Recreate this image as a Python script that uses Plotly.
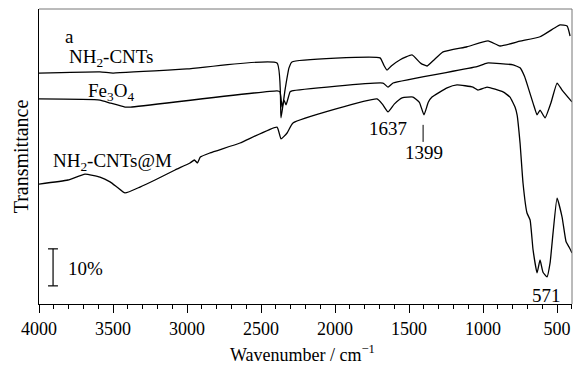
import plotly.graph_objects as go

# Wavenumbers (cm^-1) and transmittance (%, offset)
cnt_wn = [4000, 3588, 3500, 3000, 2392, 2365, 2338, 2311, 2291, 1696, 1670, 1649, 1620,
          1560, 1480, 1420, 1378, 1330, 1270, 1108, 966, 885, 750, 615, 520, 480, 432, 412]
cnt_t = [62.4, 62.7, 62.4, 63.5, 65.1, 50.3, 57.8, 63.8, 65.4, 66.5, 64.5, 63.2, 64.3,
         66.0, 67.3, 65.0, 64.3, 66.0, 68.1, 69.5, 71.1, 69.7, 71.0, 72.2, 74.5, 75.4, 75.1, 72.4]

fe_wn = [4000, 3588, 3520, 3419, 3380, 2392, 2372, 2358, 2345, 2331, 2304, 2291,
         1676, 1642, 1608, 1041, 973, 797, 750, 720, 696, 660, 635, 615, 581, 540, 500, 466, 399]
fe_t = [55.4, 55.1, 54.3, 53.2, 53.2, 57.6, 57.3, 53.2, 55.1, 53.8, 57.3, 57.6,
        59.7, 58.6, 59.7, 64.1, 65.1, 64.6, 63.8, 61.5, 58.6, 54.0, 51.1, 52.4, 50.3, 54.5, 59.7, 57.8, 54.6]

m_wn = [4000, 3804, 3689, 3588, 3520, 3470, 3419, 3318, 3216, 3081, 2980, 2950, 2930, 2910,
        2845, 2642, 2392, 2365, 2324, 2284, 1716, 1680, 1642, 1600, 1547, 1473, 1430, 1399,
        1370, 1345, 1243, 1176, 1068, 1034, 973, 865, 818, 784, 770, 750, 730, 703, 682,
        662, 635, 615, 595, 568, 547, 527, 500, 466, 439, 419, 399]
m_t = [32.4, 33.5, 35.1, 34.3, 33.0, 31.5, 30.0, 31.6, 33.5, 36.2, 38.1, 38.9, 38.1, 39.7,
       40.8, 43.5, 47.8, 44.6, 46.2, 48.9, 55.4, 54.0, 51.9, 54.0, 55.7, 55.9, 54.5, 51.1,
       54.5, 55.9, 58.4, 59.2, 58.6, 57.8, 58.6, 57.3, 55.9, 53.2, 51.1, 43.5, 32.7, 24.6, 22.7,
       14.6, 8.4, 11.9, 8.6, 7.3, 11.1, 19.2, 28.6, 23.5, 16.8, 15.4, 13.8]

x_ticks = [4000, 3500, 3000, 2500, 2000, 1500, 1000, 500]

FONT = "Liberation Serif, Times New Roman, serif"
fig = go.Figure()
for wn, t in [(cnt_wn, cnt_t), (fe_wn, fe_t), (m_wn, m_t)]:
    fig.add_trace(go.Scatter(x=wn, y=t, mode="lines",
                             line=dict(color="black", width=1.3, shape="spline", smoothing=0.4),
                             showlegend=False))

ann = [
    ("a", 3797, 72.2),
    ("NH<sub>2</sub>-CNTs", 3510, 66.5),
    ("Fe<sub>3</sub>O<sub>4</sub>", 3514, 57.3),
    ("NH<sub>2</sub>-CNTs@M", 3503, 38.4),
    ("1637", 1642, 47.3),
    ("1399", 1399, 40.8),
    ("571", 571, 2.4),
    ("10%", 3689, 9.7),
]
for txt, x, y in ann:
    fig.add_annotation(x=x, y=y, text=txt, showarrow=False,
                       font=dict(family=FONT, size=19, color="black"),
                       xanchor="center", yanchor="middle")

# axis title as annotation for exact placement
fig.add_annotation(xref="paper", yref="paper", x=0.495, y=-0.167,
                   text="Wavenumber / cm<sup>−1</sup>", showarrow=False,
                   font=dict(family=FONT, size=18, color="black"),
                   xanchor="center", yanchor="middle")

# 1399 marker line
fig.add_shape(type="line", x0=1405, x1=1405, y0=43.8, y1=48.4,
              line=dict(color="black", width=1))
# 10% scale bar
fig.add_shape(type="line", x0=3905, x1=3905, y0=4.9, y1=14.9, line=dict(color="black", width=1.2))
fig.add_shape(type="line", x0=3939, x1=3872, y0=4.9, y1=4.9, line=dict(color="black", width=1.2))
fig.add_shape(type="line", x0=3939, x1=3872, y0=14.9, y1=14.9, line=dict(color="black", width=1.2))
# grey top/right frame
fig.add_shape(type="line", xref="paper", yref="paper", x0=0, x1=1, y0=1, y1=1,
              line=dict(color="#777", width=1))
fig.add_shape(type="line", xref="paper", yref="paper", x0=1, x1=1, y0=0, y1=1,
              line=dict(color="#777", width=1))

fig.update_layout(
    width=573, height=365,
    margin=dict(l=39, r=1, t=9, b=61),
    plot_bgcolor="white", paper_bgcolor="white",
    font=dict(family=FONT, size=18, color="black"),
    xaxis=dict(range=[4000, 399], tickvals=x_ticks, ticks="outside", ticklen=8,
               tickwidth=1, tickcolor="black", showgrid=False, zeroline=False,
               showline=True, linecolor="black", linewidth=1,
               minor=dict(dtick=100, ticks="outside", ticklen=4, tickcolor="black", showgrid=False),
               tickfont=dict(family=FONT, size=18)),
    yaxis=dict(range=[0, 79.7], showticklabels=False, ticks="", showgrid=False,
               zeroline=False, showline=True, linecolor="black", linewidth=1,
               title=dict(text="Transmittance", standoff=4, font=dict(family=FONT, size=20))),
)

fig.write_html("out.html")
